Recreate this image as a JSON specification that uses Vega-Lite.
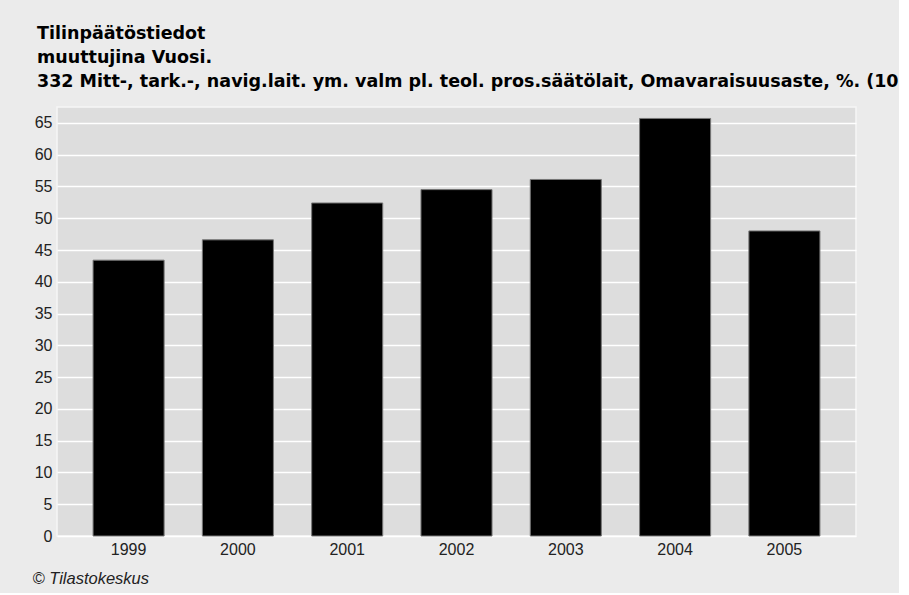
{
  "$schema": "https://vega.github.io/schema/vega-lite/v6.json",
  "autosize": {"type": "none"},
  "width": 799,
  "height": 429,
  "padding": {"left": 57, "top": 107, "right": 43, "bottom": 57},
  "background": "#ebebeb",
  "title": {
    "text": ["Tilinpäätöstiedot", "muuttujina Vuosi.", "332 Mitt-, tark.-, navig.lait. ym. valm pl. teol. pros.säätölait, Omavaraisuusaste, %. (10"],
    "anchor": "start",
    "frame": "group",
    "font": "DejaVu Sans",
    "fontSize": 17.5,
    "fontWeight": "bold",
    "color": "#000000",
    "lineHeight": 24,
    "baseline": "alphabetic",
    "dx": -20,
    "dy": 16,
    "offset": 19
  },
  "data": {
    "values": [
      {"year": "1999", "value": 43.4},
      {"year": "2000", "value": 46.6},
      {"year": "2001", "value": 52.4},
      {"year": "2002", "value": 54.5},
      {"year": "2003", "value": 56.1},
      {"year": "2004", "value": 65.7},
      {"year": "2005", "value": 48.0}
    ]
  },
  "mark": {"type": "bar", "color": "#000000", "stroke": "#777777", "strokeWidth": 1},
  "encoding": {
    "x": {
      "field": "year",
      "type": "ordinal",
      "scale": {"paddingInner": 0.35, "paddingOuter": 0.33},
      "axis": {
        "title": "© Tilastokeskus",
        "titleFont": "Liberation Sans",
        "titleFontSize": 16.5,
        "titleFontStyle": "italic",
        "titleFontWeight": "normal",
        "titleColor": "#222222",
        "titleAnchor": "start",
        "titleAlign": "left",
        "titleBaseline": "middle",
        "titleX": -25,
        "titleY": 42,
        "labelAngle": 0,
        "labelFont": "Liberation Sans",
        "labelFontSize": 16,
        "labelColor": "#222222",
        "labelPadding": 5,
        "ticks": false,
        "domain": false,
        "grid": false
      }
    },
    "y": {
      "field": "value",
      "type": "quantitative",
      "scale": {"domain": [0, 67.5], "nice": false, "zero": true},
      "axis": {
        "title": null,
        "values": [0, 5, 10, 15, 20, 25, 30, 35, 40, 45, 50, 55, 60, 65],
        "labelFont": "Liberation Sans",
        "labelFontSize": 16,
        "labelColor": "#222222",
        "labelPadding": 5,
        "ticks": false,
        "domain": false,
        "grid": true,
        "gridColor": "#ffffff",
        "gridWidth": 1.5,
        "gridOpacity": 1
      }
    }
  },
  "config": {
    "view": {"fill": "#dddddd", "stroke": "#f6f6f6", "strokeWidth": 1.5}
  }
}
